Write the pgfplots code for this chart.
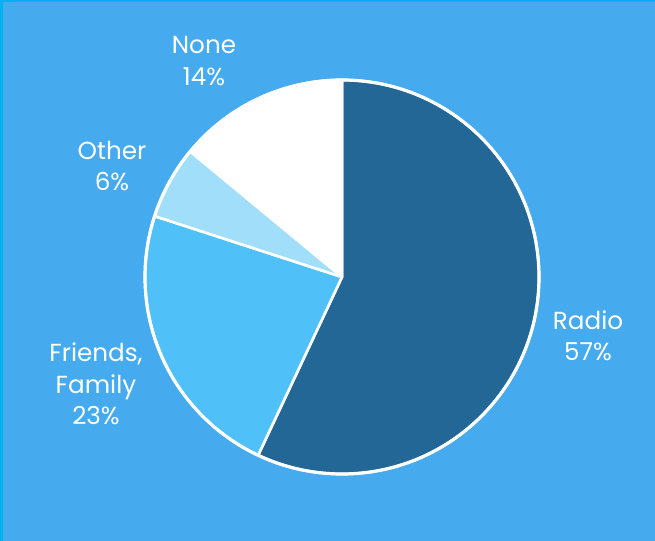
\documentclass[border=0pt]{standalone}
\usepackage{pgfplots}
\usepackage{pgfplotstable}
\pgfplotsset{compat=1.18}
\usepackage{fontspec}
\setmainfont{Poppins}
\definecolor{bg}{RGB}{69,170,238}
\definecolor{frame}{RGB}{0,176,240}
\definecolor{slice0}{RGB}{35,103,150}
\definecolor{slice1}{RGB}{79,192,248}
\definecolor{slice2}{RGB}{160,222,250}
\definecolor{slice3}{RGB}{255,255,255}
\pgfplotstableread{
label value
Radio 57
Friends 23
Other 6
None 14
}\piedata
\begin{document}
\begin{tikzpicture}
\begin{axis}[
  x=0.75pt, y=0.75pt,
  xmin=0, xmax=655, ymin=0, ymax=541,
  hide axis, clip=false,
]
\fill[bg] (axis cs:0,0) rectangle (axis cs:655,541);
\fill[frame] (axis cs:0,0) rectangle (axis cs:3,541);
\fill[frame] (axis cs:0,538.5) rectangle (axis cs:655,541);
\def\cum{90}
\pgfplotsforeachungrouped \i in {0,...,3}{
  \pgfplotstablegetelem{\i}{value}\of\piedata
  \pgfmathsetmacro\a{\cum}
  \pgfmathsetmacro\b{\cum-3.6*\pgfplotsretval}
  \edef\temp{\noexpand\filldraw[fill=slice\i, draw=white, line width=2pt, line join=round]
    (axis cs:342,264) -- ++(\a:147.75pt) arc[start angle=\a, end angle=\b, radius=147.75pt] -- cycle;}
  \temp
  \global\let\cum\b
}
\draw[white, line width=2.4pt] (axis cs:342,264) circle[radius=147.75pt];
\begin{scope}[every node/.style={text=white, align=center, font=\fontsize{18.5}{23.5}\selectfont}]
\node at (axis cs:204,480) {None\\14\%};
\node at (axis cs:112,375) {Other\\6\%};
\node at (axis cs:96,157) {Friends,\\Family\\23\%};
\node at (axis cs:588,205) {Radio\\57\%};
\end{scope}
\end{axis}
\end{tikzpicture}
\end{document}
